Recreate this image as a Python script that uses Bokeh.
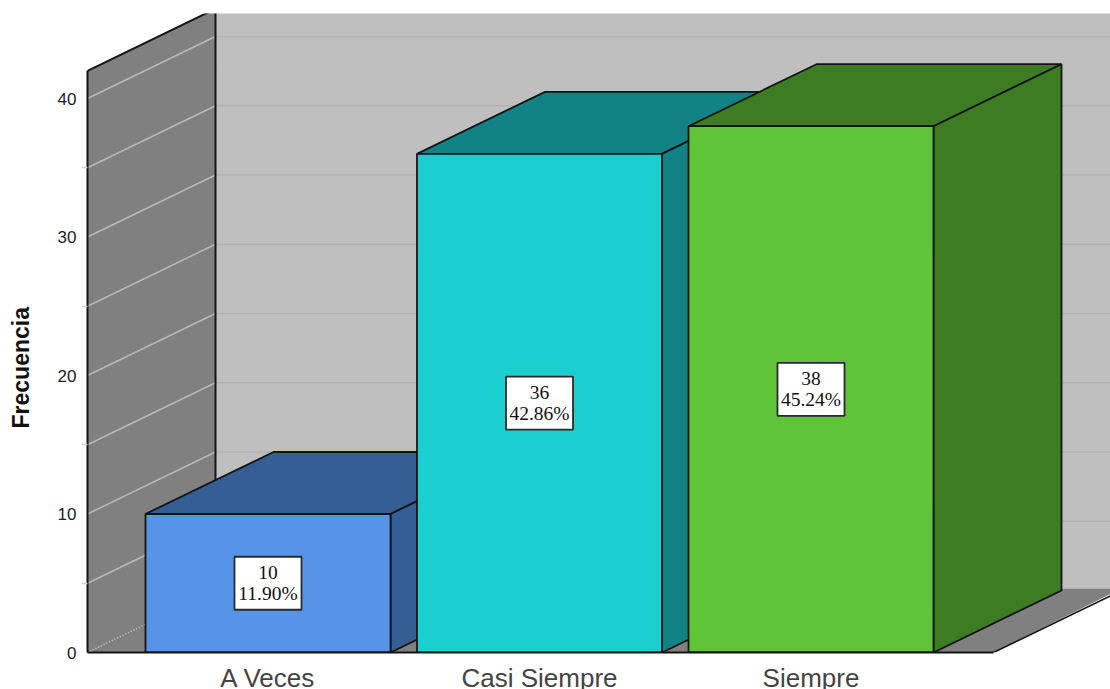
from bokeh.embed import file_html
from bokeh.resources import INLINE
from bokeh.plotting import figure
from bokeh.models import FixedTicker, Range1d, Title, LinearAxis
from bokeh.core.properties import value

# Frequencies per response category
categories = ["A Veces", "Casi Siempre", "Siempre"]
counts = [10, 36, 38]
percents = ["11.90%", "42.86%", "45.24%"]
y_ticks = [0, 10, 20, 30, 40]
y_minor_ticks = [5, 15, 25, 35]
grid_levels = [5, 10, 15, 20, 25, 30, 35, 40]
y_title = "Frecuencia"

front_colors = ["#5594e6", "#1bcfd1", "#5fc437"]
shade_colors = ["#355e94", "#118385", "#3e7c24"]

# Scale of the chart: pixels per category step and per count
PX_X = 271.5
PX_Y = 13.85
# Oblique depth of the 3D box, expressed in data units
DX = 128 / PX_X
DY = 62 / PX_Y
BAR_W = 245 / PX_X
WALL_L = -180.5 / PX_X
WALL_R = 725.5 / PX_X
WALL_TOP = 42
FAR_X = 3.4
FLOOR_BACK = DY + 0.15
EDGE = "#141414"

p = figure(
    width=1110, height=689, frame_width=1023, frame_height=639,
    min_border_left=87, min_border_right=0, min_border_top=13, min_border_bottom=37,
    x_range=Range1d(WALL_L, WALL_L + 1023 / PX_X),
    y_range=Range1d(0, 639 / PX_Y),
    output_backend="svg", toolbar_location=None,
    outline_line_color=None, background_fill_color="white", border_fill_color="white",
)
p.grid.visible = False

# Left wall, back wall and floor of the box
p.patch([WALL_L, WALL_L + DX, WALL_L + DX, WALL_L], [0, DY, WALL_TOP + DY, WALL_TOP],
        fill_color="#808080", line_color=None)
p.patch([WALL_L + DX, FAR_X, FAR_X, WALL_L + DX], [FLOOR_BACK, FLOOR_BACK, 60, 60],
        fill_color="#bfbfbf", line_color=None)
p.patch([WALL_L, WALL_R, WALL_R + DX, FAR_X, WALL_L + DX],
        [0, 0, FLOOR_BACK, FLOOR_BACK, FLOOR_BACK],
        fill_color="#808080", line_color=None)

# Grid lines across both walls
p.segment([WALL_L] * len(grid_levels), grid_levels,
          [WALL_L + DX] * len(grid_levels), [g + DY for g in grid_levels],
          line_color="#b8b8b8", line_width=1.5)
p.segment([WALL_L + DX] * len(grid_levels), [g + DY for g in grid_levels],
          [FAR_X] * len(grid_levels), [g + DY for g in grid_levels],
          line_color="#b2b2b2", line_width=1.5)
p.line([WALL_L, WALL_L + DX], [0, DY], line_color="#c6c6c6", line_width=1.5, line_dash="1 2")

# Wall edges
p.line([WALL_L, WALL_L + DX, WALL_L + DX], [WALL_TOP, WALL_TOP + DY, DY],
       line_color=EDGE, line_width=2)
p.line([WALL_R, WALL_R + DX + 0.2], [0, DY * (1 + 0.2 / DX)], line_color=EDGE, line_width=1.6)

# Bars, drawn left to right so that each one covers the previous one's side
for i, (count, front, shade) in enumerate(zip(counts, front_colors, shade_colors)):
    left, right = i - BAR_W / 2, i + BAR_W / 2
    p.patch([left, right, right + DX, left + DX], [count, count, count + DY, count + DY],
            fill_color=shade, line_color=EDGE, line_width=1.8)
    p.patch([right, right + DX, right + DX, right], [0, DY, count + DY, count],
            fill_color=shade, line_color=EDGE, line_width=1.8)
    p.vbar(x=[i], top=[count], bottom=0, width=BAR_W,
           fill_color=front, line_color=EDGE, line_width=1.8)

# Value boxes in the middle of each bar
xs = list(range(len(counts)))
mids = [c / 2 for c in counts]
p.rect(x=xs, y=mids, width=67, height=53, width_units="screen", height_units="screen",
       fill_color="white", line_color="#2a2a2a", line_width=1.8)
label_font = value("Liberation Serif")
p.text(x=xs, y=mids, text=[str(c) for c in counts], y_offset=-11, text_align="center",
       text_baseline="middle", text_font=label_font, text_font_size="19.5px", text_color="#111111")
p.text(x=xs, y=mids, text=percents, y_offset=10, text_align="center",
       text_baseline="middle", text_font=label_font, text_font_size="19.5px", text_color="#111111")

# Count axis
ax = p.yaxis[0]
ax.ticker = FixedTicker(ticks=y_ticks, minor_ticks=y_minor_ticks)
ax.bounds = (0, WALL_TOP)
ax.axis_line_color = EDGE
ax.axis_line_width = 2
ax.major_tick_line_color = None
ax.major_tick_out = 0
ax.major_tick_in = 0
ax.minor_tick_line_color = "#d4d4d4"
ax.minor_tick_line_width = 1.5
ax.minor_tick_out = 6
ax.minor_tick_in = 0
ax.major_label_standoff = 5
ax.major_label_text_font = "Liberation Sans"
ax.major_label_text_font_size = "17px"
ax.major_label_text_color = "#222222"

# Blank axis that holds the title away from the tick labels
spacer = LinearAxis(ticker=FixedTicker(ticks=[0]), axis_line_color=None,
                    major_tick_line_color=None, minor_tick_line_color=None,
                    major_tick_in=0, major_tick_out=21, major_label_standoff=0,
                    major_label_overrides={0: ""})
p.add_layout(spacer, "left")

# Axis title, set lower than the centre of the plot frame
p.add_layout(Title(text=y_title, align="left", offset=224, standoff=0,
                   text_font="Liberation Sans", text_font_style="bold",
                   text_font_size="23px", text_color="#111111"), "left")

# Category axis
bx = p.xaxis[0]
bx.ticker = FixedTicker(ticks=xs)
bx.major_label_overrides = {i: c for i, c in enumerate(categories)}
bx.bounds = (WALL_L, WALL_R)
bx.axis_line_color = EDGE
bx.axis_line_width = 2
bx.major_tick_line_color = None
bx.major_tick_out = 0
bx.major_tick_in = 0
bx.minor_tick_line_color = None
bx.major_label_standoff = 10
bx.major_label_text_font = "Liberation Sans"
bx.major_label_text_font_size = "26px"
bx.major_label_text_color = "#444444"

open("out.html", "w").write(file_html(p, INLINE))
